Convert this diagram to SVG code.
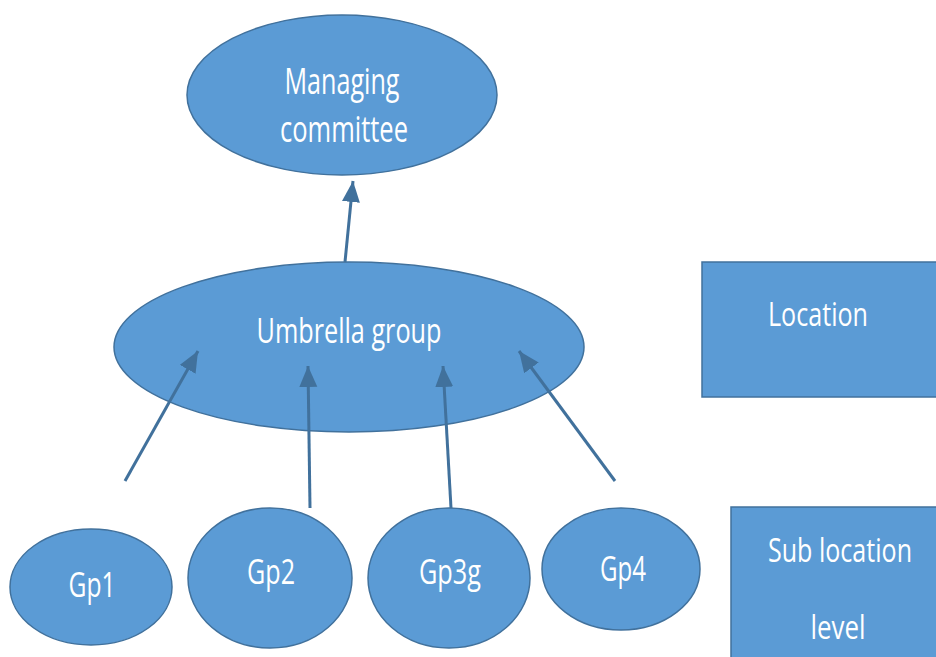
<svg xmlns="http://www.w3.org/2000/svg" width="936" height="657" viewBox="0 0 936 657">
<style>
.n{fill:#5b9bd5;stroke:#41719c;stroke-width:1.5}
.t{fill:#ffffff;font-family:"Open Sans","Liberation Sans",sans-serif;text-anchor:middle}
.c{stroke:#41719c;stroke-width:3;fill:none;marker-end:url(#ah)}
</style>
<defs>
<marker id="ah" markerUnits="userSpaceOnUse" markerWidth="22" markerHeight="20" refX="21" refY="9" orient="auto">
<path d="M0,0 L21,9 L0,18 z" fill="#41719c"/>
</marker>
</defs>
<rect width="936" height="657" fill="#ffffff"/>
<g id="managing">
<ellipse class="n" cx="342" cy="95" rx="155" ry="80"/>
<text class="t" x="342" y="94" font-size="36" textLength="115" lengthAdjust="spacingAndGlyphs">Managing</text>
<text class="t" x="344" y="142" font-size="36" textLength="128" lengthAdjust="spacingAndGlyphs">committee</text>
</g>
<g id="umbrella">
<ellipse class="n" cx="349" cy="347" rx="235" ry="85"/>
<text class="t" x="349" y="343" font-size="34" textLength="185" lengthAdjust="spacingAndGlyphs">Umbrella group</text>
</g>
<g id="location">
<rect class="n" x="702" y="262" width="236" height="135"/>
<text class="t" x="818" y="326" font-size="32" textLength="100" lengthAdjust="spacingAndGlyphs">Location</text>
</g>
<g id="sublocation">
<rect class="n" x="731" y="507" width="210" height="160"/>
<text class="t" x="840" y="562" font-size="32" textLength="144" lengthAdjust="spacingAndGlyphs">Sub location</text>
<text class="t" x="838" y="639" font-size="32" textLength="55" lengthAdjust="spacingAndGlyphs">level</text>
</g>
<g id="gp1">
<ellipse class="n" cx="91" cy="587" rx="81" ry="58"/>
<text class="t" x="92" y="597" font-size="35" textLength="47" lengthAdjust="spacingAndGlyphs">Gp1</text>
</g>
<g id="gp2">
<ellipse class="n" cx="270" cy="578" rx="82" ry="70"/>
<text class="t" x="271" y="584" font-size="35" textLength="48" lengthAdjust="spacingAndGlyphs">Gp2</text>
</g>
<g id="gp3g">
<ellipse class="n" cx="449" cy="578" rx="81" ry="70"/>
<text class="t" x="450" y="584" font-size="35" textLength="62" lengthAdjust="spacingAndGlyphs">Gp3g</text>
</g>
<g id="gp4">
<ellipse class="n" cx="621" cy="569" rx="79" ry="61"/>
<text class="t" x="623" y="581" font-size="35" textLength="46" lengthAdjust="spacingAndGlyphs">Gp4</text>
</g>
<g id="connectors">
<line class="c" x1="345" y1="262" x2="353" y2="181"/>
<line class="c" x1="125" y1="481" x2="198" y2="351"/>
<line class="c" x1="310" y1="508" x2="308" y2="366"/>
<line class="c" x1="451" y1="508" x2="443" y2="366"/>
<line class="c" x1="615" y1="481" x2="519" y2="351"/>
</g>
</svg>
